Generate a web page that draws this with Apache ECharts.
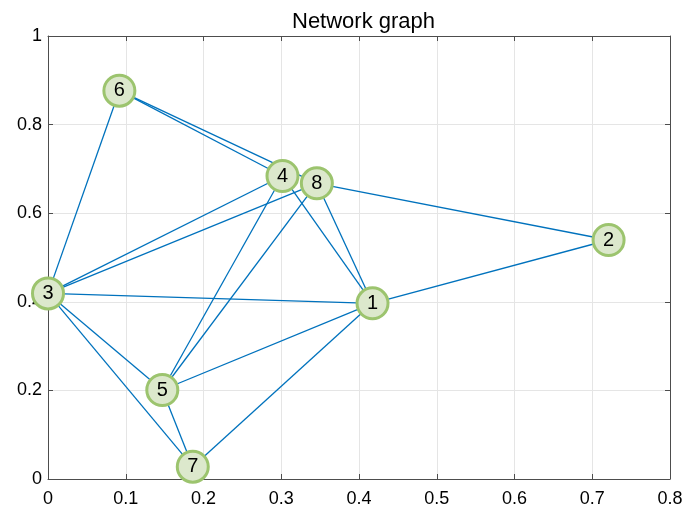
<!DOCTYPE html>
<html>
<head>
<meta charset="utf-8">
<script src="https://cdn.jsdelivr.net/npm/echarts@6/dist/echarts.min.js"></script>
<style>
html,body{margin:0;padding:0;background:#fff;}
#chart{width:690px;height:512px;}
</style>
</head>
<body>
<div id="chart"></div>
<script>
const nodeNames = ['1','2','3','4','5','6','7','8'];
const nodeX = [0.4174, 0.7210, 0.0000, 0.3016, 0.1470, 0.0918, 0.1862, 0.3458];
const nodeY = [0.3966, 0.5395, 0.4190, 0.6840, 0.2009, 0.8766, 0.0278, 0.6675];
const edgeSource = ['6','6','6','3','3','3','3','3','5','5','4','8','8','1','5','5','7'];
const edgeTarget = ['3','4','8','4','8','1','5','7','4','8','1','1','2','2','1','7','1'];

const chart = echarts.init(document.getElementById('chart'), null, {renderer:'canvas'});
const font = 'Liberation Sans, Arial, Helvetica, sans-serif';
const axisColor = '#4d4d4d';

const nodes = nodeNames.map((n, i) => ({name: n, value: [nodeX[i], nodeY[i]]}));
const links = edgeSource.map((s, i) => ({source: s, target: edgeTarget[i]}));

const baseX = {
  type: 'value', min: 0, max: 0.8, interval: 0.1,
  axisLine: {show: true, onZero: false, lineStyle: {color: axisColor, width: 1}},
  axisTick: {show: true, inside: true, length: 5, lineStyle: {color: axisColor}},
};
const baseY = {
  type: 'value', min: 0, max: 1, interval: 0.2,
  axisLine: {show: true, onZero: false, lineStyle: {color: axisColor, width: 1}},
  axisTick: {show: true, inside: true, length: 5, lineStyle: {color: axisColor}},
};

chart.setOption({
  animation: false,
  backgroundColor: '#fff',
  title: {
    text: 'Network graph', left: 287, top: 6,
    textStyle: {fontFamily: font, fontSize: 22, fontWeight: 'normal', color: '#000'}
  },
  grid: {left: 48, right: 20, top: 36, bottom: 33, containLabel: false},
  xAxis: [
    Object.assign({}, baseX, {
      position: 'bottom',
      axisLabel: {fontFamily: font, fontSize: 18, color: '#000', margin: 11,
        formatter: v => String(Math.round(v * 10) / 10)},
      splitLine: {show: true, lineStyle: {color: '#e5e5e5', width: 1}}
    }),
    Object.assign({}, baseX, {
      position: 'top',
      axisLabel: {show: false},
      splitLine: {show: false}
    })
  ],
  yAxis: [
    Object.assign({}, baseY, {
      position: 'left',
      axisLabel: {fontFamily: font, fontSize: 18, color: '#000', margin: 6,
        formatter: v => String(Math.round(v * 10) / 10)},
      splitLine: {show: true, lineStyle: {color: '#e5e5e5', width: 1}}
    }),
    Object.assign({}, baseY, {
      position: 'right',
      axisLabel: {show: false},
      splitLine: {show: false}
    })
  ],
  series: [{
    type: 'graph',
    coordinateSystem: 'cartesian2d',
    xAxisIndex: 0, yAxisIndex: 0,
    symbol: 'circle',
    symbolSize: 31,
    data: nodes,
    links: links,
    itemStyle: {color: '#dce8cc', borderColor: '#9cc46e', borderWidth: 3},
    label: {show: true, position: 'inside', formatter: '{b}', fontFamily: font, fontSize: 20, color: '#000'},
    lineStyle: {color: '#0072BD', width: 1.3, opacity: 1, curveness: 0},
    emphasis: {disabled: true}
  }]
});
</script>
</body>
</html>
